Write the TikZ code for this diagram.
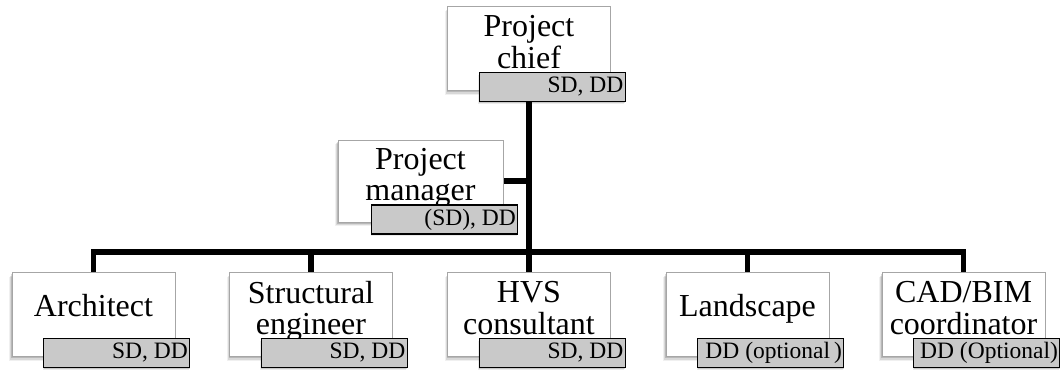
\documentclass[tikz,border=0pt]{standalone}
\usepackage{fontspec}
\setmainfont{Liberation Serif}
\usetikzlibrary{calc,shadows}
\pgfdeclarelayer{bg}
\pgfsetlayers{bg,main}
\begin{document}
\begin{tikzpicture}[x=1pt,y=-1pt,
  box/.style={draw=black!35, line width=0.8pt, fill=white, minimum width=163pt, minimum height=84pt, inner sep=0pt,
    drop shadow={shadow xshift=-3pt, shadow yshift=-4pt, fill=black, opacity=0.06},
    drop shadow={shadow xshift=-2pt, shadow yshift=-3pt, fill=black, opacity=0.1},
    drop shadow={shadow xshift=-1pt, shadow yshift=-1.8pt, fill=black, opacity=0.15}},
  txt/.style={inner sep=0pt, align=center, font=\fontsize{32}{31}\selectfont},
  tag/.style={draw=black, line width=1.1pt, fill=black!21, minimum width=146pt, minimum height=29pt, inner xsep=2pt, inner ysep=0pt,
    text width=142pt, align=flush right, font=\fontsize{23.5}{24}\selectfont, text height=16pt, text depth=4pt,
    drop shadow={shadow xshift=-1pt, shadow yshift=-2.5pt, fill=black, opacity=0.08},
    drop shadow={shadow xshift=0pt, shadow yshift=-1.5pt, fill=black, opacity=0.15}},
  conn/.style={line width=5.5pt, line join=miter, draw=black}
]
\useasboundingbox (0,0) rectangle (1061,370);

% boxes
\node[box] (chief) at (529,48.5) {};
\node[box, minimum width=165pt, minimum height=82pt] (mgr) at (420.5,181) {};
\node[box] (arch) at (93.5,314.5) {};
\node[box] (struct) at (311,314.5) {};
\node[box] (hvs) at (529,314.5) {};
\node[box] (land) at (747.5,314.5) {};
\node[box] (cad) at (963.5,314.5) {};

% connectors
\coordinate (bus) at (529,252);
\begin{pgfonlayer}{bg}
\draw[conn] (chief.south) -- (hvs.north);
\draw[conn] (mgr.east) -- (mgr.east -| chief.south);
\draw[conn] (arch.north) |- (bus) -| (cad.north);
\draw[conn] (struct.north) -- (struct.north |- bus);
\draw[conn] (land.north) -- (land.north |- bus);
\end{pgfonlayer}

% texts
\node[txt, yshift=2.2pt] (chiefT) at (chief.center) {\strut Project\\chief\strut};
\node[txt, yshift=2.2pt] (mgrT) at (mgr.center) {\strut Project\\manager\strut};
\node[txt, yshift=4.7pt] (archT) at (arch.center) {\strut Architect};
\node[txt, yshift=2.2pt] (structT) at (struct.center) {\strut Structural\\engineer\strut};
\node[txt, yshift=2.2pt] (hvsT) at (hvs.center) {\strut HVS\\consultant\strut};
\node[txt, yshift=4.7pt] (landT) at (land.center) {\strut Landscape};
\node[txt, yshift=2.2pt] (cadT) at (cad.center) {\strut CAD/BIM\\coordinator\strut};

% tags
\node[tag, anchor=north east] (chiefL) at ($(chief.south east)+(15,-19)$) {SD, DD};
\node[tag, anchor=north east] (mgrL) at ($(mgr.south east)+(15,-18)$) {(SD), DD};
\node[tag, anchor=north east] (archL) at ($(arch.south east)+(15,-19)$) {SD, DD};
\node[tag, anchor=north east] (structL) at ($(struct.south east)+(15,-19)$) {SD, DD};
\node[tag, anchor=north east] (hvsL) at ($(hvs.south east)+(15,-19)$) {SD, DD};
\node[tag, anchor=north east] (landL) at ($(land.south east)+(15,-19)$) {DD (optional\,)};
\node[tag, anchor=north east] (cadL) at ($(cad.south east)+(15,-19)$) {DD (Optional)};
\end{tikzpicture}
\end{document}
